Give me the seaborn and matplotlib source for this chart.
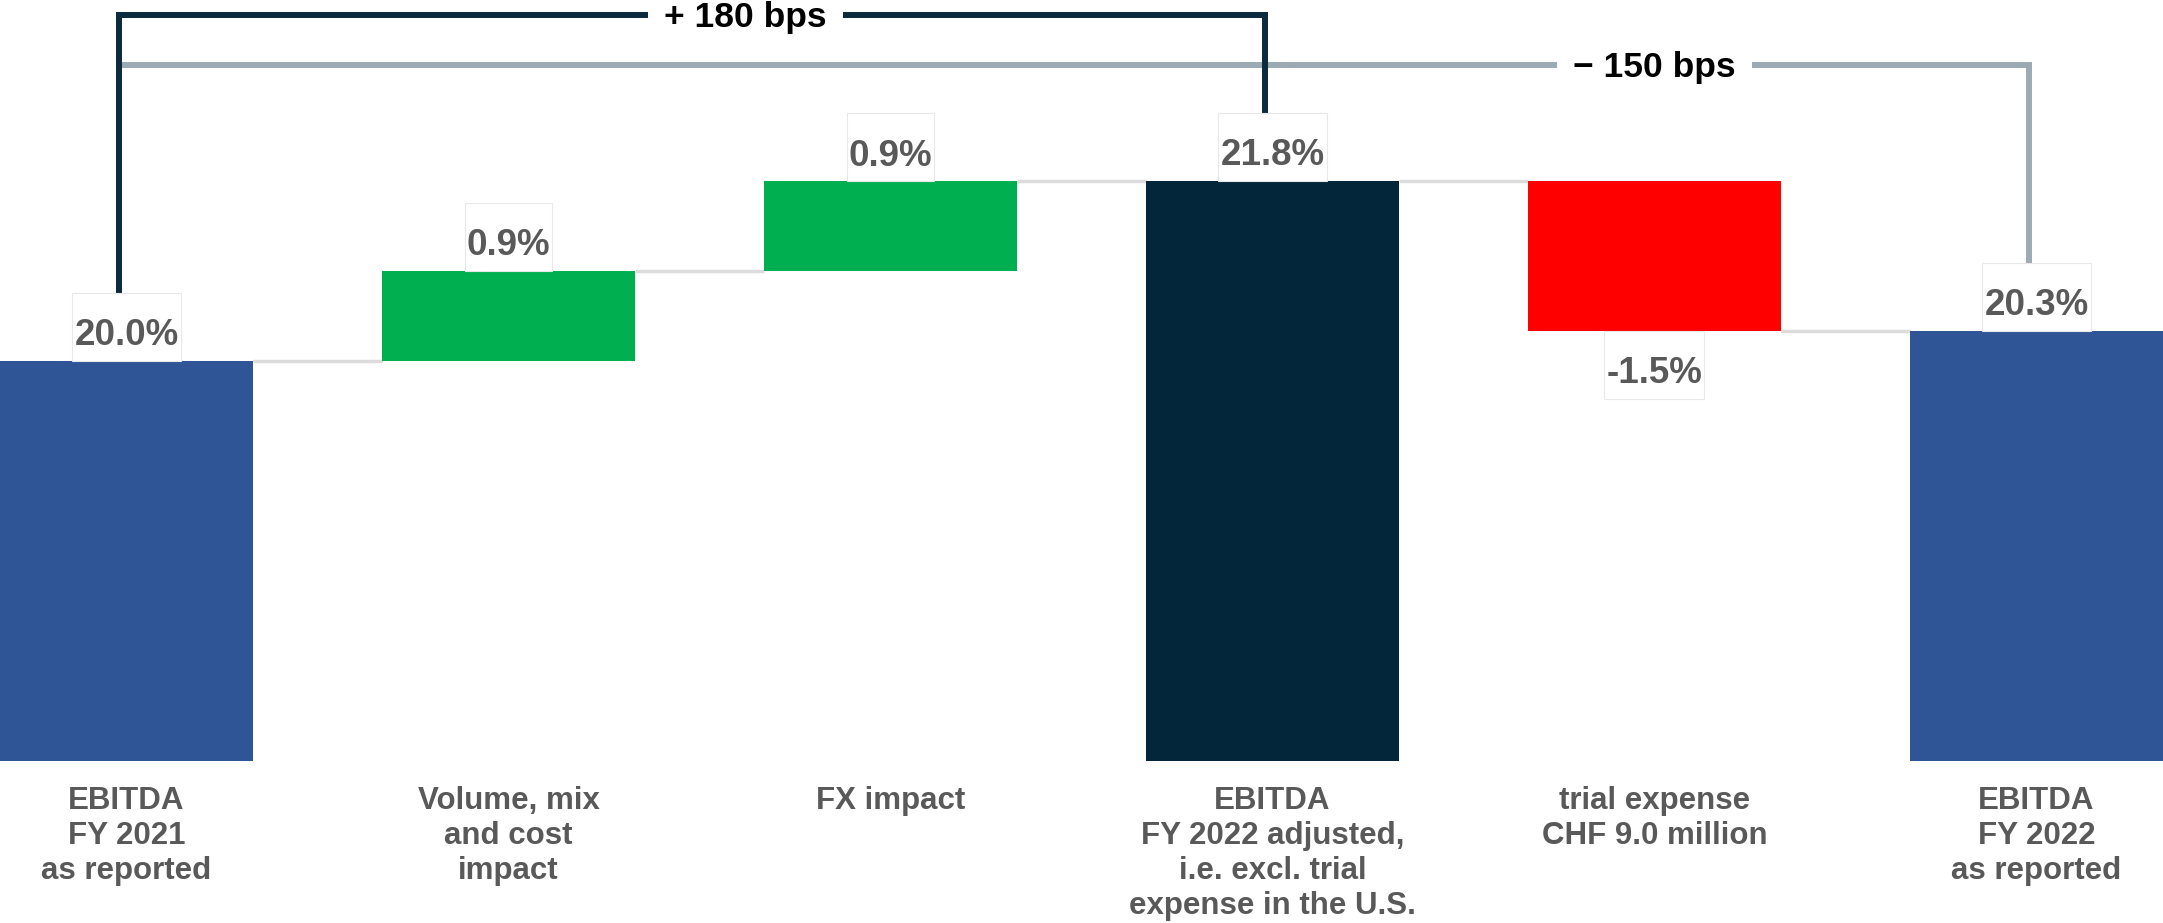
## EBITDA margin bridge FY 2021 -> FY 2022

import matplotlib
matplotlib.use("Agg")
import matplotlib.pyplot as plt
from matplotlib.patches import Rectangle
import seaborn as sns
import pandas as pd

#----------------------------------------------------
# data
#----------------------------------------------------

categories = [
    "EBITDA\nFY 2021\nas reported",
    "Volume, mix\nand cost\nimpact",
    "FX impact",
    "EBITDA\nFY 2022 adjusted,\ni.e. excl. trial\nexpense in the U.S.",
    "trial expense\nCHF 9.0 million",
    "EBITDA\nFY 2022\nas reported",
]
values = [20.0, 0.9, 0.9, 21.8, -1.5, 20.3]
is_total = [True, False, False, True, False, True]
value_labels = ["20.0%", "0.9%", "0.9%", "21.8%", "-1.5%", "20.3%"]
bar_colors = ["#2f5597", "#00b050", "#00b050", "#03263b", "#ff0000", "#2f5597"]

bracket_from = [0, 0]
bracket_to = [5, 3]
bracket_text = ["\u2212 150 bps", "+ 180 bps"]
bracket_colors = ["#9caab4", "#0b2a3d"]

AXIS_FLOOR = 16.0

#----------------------------------------------------
# waterfall geometry
#----------------------------------------------------

def build_waterfall():
    lows, highs, levels = [], [], []
    running = 0.0
    for v, tot in zip(values, is_total):
        if tot:
            lo, hi = AXIS_FLOOR, v
            running = v
        else:
            lo, hi = min(running, running + v), max(running, running + v)
            running = running + v
        lows.append(lo)
        highs.append(hi)
        levels.append(running)
    return lows, highs, levels

#----------------------------------------------------
# main
#----------------------------------------------------

def main():
    sns.set_style("white")
    plt.rcParams["font.family"] = ["Liberation Sans", "DejaVu Sans"]
    GREY_TEXT = "#595959"
    BAR_W = 0.663
    BOX_H = 0.68

    lows, highs, levels = build_waterfall()
    df = pd.DataFrame({
        "cat": categories,
        "height": [h - l for h, l in zip(highs, lows)],
    })

    fig = plt.figure(figsize=(21.63, 9.23), dpi=100)
    ax = fig.add_axes([0, 0, 1, 1])

    sns.barplot(data=df, x="cat", y="height", bottom=lows, width=BAR_W,
                color=bar_colors[0], saturation=1, errorbar=None, ax=ax, zorder=2)
    for patch, c in zip(ax.patches, bar_colors):
        patch.set_facecolor(c)
        patch.set_edgecolor("none")

    ax.set_xlim(-BAR_W / 2, len(categories) - 1 + BAR_W / 2)
    ax.set_ylim(14.38, 23.61)
    ax.set_axis_off()

    # connectors between bars
    for i in range(len(categories) - 1):
        ax.plot([i + BAR_W / 2, i + 1 - BAR_W / 2], [levels[i], levels[i]],
                color="#dcdcdc", lw=2.5, zorder=1, solid_capstyle="butt")

    # value labels in small white boxes
    label_items = []
    for i, (txt, v) in enumerate(zip(value_labels, values)):
        box_bottom = highs[i] if v >= 0 else lows[i] - BOX_H
        t = ax.text(i, box_bottom + 0.155, txt, ha="center", va="baseline",
                    fontsize=26.5, fontweight="bold", color=GREY_TEXT, zorder=5)
        label_items.append((t, box_bottom))

    # category labels under the bars
    for i, cat in enumerate(categories):
        ax.text(i, 15.75, cat, ha="center", va="top", fontsize=22.5,
                fontweight="bold", color=GREY_TEXT, linespacing=1.22)

    # brackets
    bracket_y = [22.96, 23.46]
    bracket_label_x = [4.0, 1.62]
    shift = -0.02
    for a, b, txt, col, yh, lx in zip(bracket_from, bracket_to, bracket_text,
                                      bracket_colors, bracket_y, bracket_label_x):
        x0, x1 = a + shift, b + shift
        y0, y1 = highs[a] + BOX_H, highs[b] + BOX_H
        ax.plot([x0, x0, x1, x1], [y0, yh, yh, y1], color=col, lw=4.3,
                solid_joinstyle="miter", solid_capstyle="butt", zorder=3)
        ax.text(lx, yh - 0.125, txt, ha="center", va="baseline", fontsize=25.5,
                fontweight="bold", color="black", zorder=4,
                bbox=dict(boxstyle="square,pad=0.45", fc="white", ec="none"))

    # boxes sized to the value text
    fig.canvas.draw()
    renderer = fig.canvas.get_renderer()
    inv = ax.transData.inverted()
    for t, yb in label_items:
        bb = t.get_window_extent(renderer)
        (bx0, _), (bx1, _) = inv.transform([[bb.x0 - 2, 0], [bb.x1 + 2, 0]])
        ax.add_patch(Rectangle((bx0, yb), bx1 - bx0, BOX_H, facecolor="white",
                               edgecolor="#e8e8e8", lw=0.8, zorder=4))

    fig.savefig("out.png", dpi=100)
    return


if __name__ == '__main__':
    main()
